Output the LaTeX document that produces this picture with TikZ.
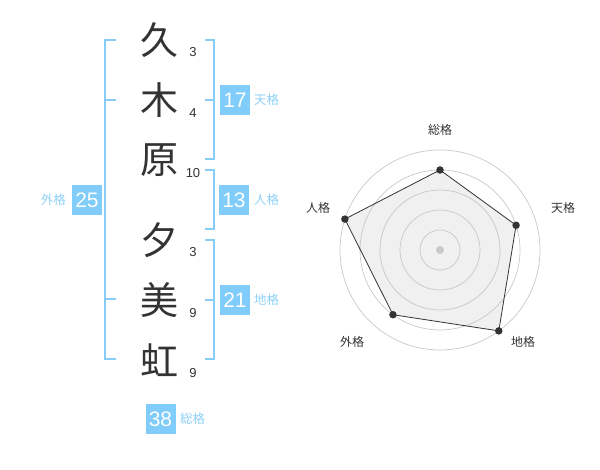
\documentclass[tikz,border=0pt]{standalone}
\usepackage{fontspec}
\usetikzlibrary{calc}
\setmainfont{Liberation Sans}
\newfontfamily\jp{Noto Sans CJK JP}
\definecolor{brk}{HTML}{88CDF8}
\definecolor{boxc}{HTML}{80CCFA}
\definecolor{lbl}{HTML}{8DD0F6}
\definecolor{ink}{HTML}{333333}
\definecolor{ring}{HTML}{C8C8C8}
\definecolor{polyfill}{HTML}{F0F0F0}
\tikzset{
  kanji/.style={font=\jp\fontsize{38}{38}\selectfont, text=ink, inner sep=0pt},
  strokes/.style={font=\fontsize{13}{13}\selectfont, text=ink, inner sep=0pt},
  numbox/.style={fill=boxc, minimum width=30pt, minimum height=30pt, inner sep=0pt, text=white, font=\fontsize{21}{21}\selectfont},
  kaku/.style={font=\jp\fontsize{12.5}{12.5}\selectfont, text=lbl, inner sep=0pt},
  bracket/.style={draw=brk, line width=2pt},
  ringline/.style={draw=ring, line width=0.7pt},
  axislbl/.style={font=\jp\fontsize{12}{12}\selectfont, text=ink, inner sep=0pt},
  dot/.style={circle, fill=ink, inner sep=0pt, minimum size=7.5pt},
}
\begin{document}
\begin{tikzpicture}[x=1pt,y=1pt]
\useasboundingbox (0,0) rectangle (600,470);
% characters
\node[kanji] (k1) at (159,430) {久};
\node[kanji] (k2) at (159,370) {木};
\node[kanji] (k3) at (159,310) {原};
\node[kanji] (k4) at (159,230) {夕};
\node[kanji] (k5) at (159,170) {美};
\node[kanji] (k6) at (159,110) {虹};
% stroke counts
\node[strokes] (s1) at (193,418) {3};
\node[strokes] (s2) at (193,357) {4};
\node[strokes] (s3) at (193,297) {10};
\node[strokes] (s4) at (193,218) {3};
\node[strokes] (s5) at (193,157) {9};
\node[strokes] (s6) at (193,97) {9};
% brackets
\draw[bracket] (116,430) -- (105,430) -- (105,111) -- (116,111);
\draw[bracket] (105,370) -- (116,370);
\draw[bracket] (105,171) -- (116,171);
\draw[bracket] (205,430) -- (214,430) -- (214,311) -- (205,311);
\draw[bracket] (205,370) -- (214,370);
\draw[bracket] (205,300) -- (214,300) -- (214,241) -- (205,241);
\draw[bracket] (205,230) -- (214,230) -- (214,111) -- (205,111);
\draw[bracket] (205,170) -- (214,170);
% boxes
\node[numbox] (ten) at (235,370) {17};
\node[kaku, anchor=west] (tenl) at (254,370) {天格};
\node[numbox] (jin) at (234,270) {13};
\node[kaku, anchor=west] (jinl) at (254,270) {人格};
\node[numbox] (chi) at (235,170) {21};
\node[kaku, anchor=west] (chil) at (254,170) {地格};
\node[numbox] (gai) at (87,270) {25};
\node[kaku, anchor=east] (gail) at (66,270) {外格};
\node[numbox] (sou) at (160.5,51) {38};
\node[kaku, anchor=west] (soul) at (180,51) {総格};
% radar
\coordinate (c) at (440,220);
\coordinate (p1) at ($(c)+(90:80)$);
\coordinate (p2) at ($(c)+(18:80)$);
\coordinate (p3) at ($(c)+(-54:100)$);
\coordinate (p4) at ($(c)+(-126:80)$);
\coordinate (p5) at ($(c)+(162:100)$);
\fill[polyfill] (p1) -- (p2) -- (p3) -- (p4) -- (p5) -- cycle;
\foreach \r in {20,40,60,80,100} \draw[ringline] (c) circle (\r);
\fill[ring] (c) circle (4);
\draw[draw=ink, line width=0.8pt] (p1) -- (p2) -- (p3) -- (p4) -- (p5) -- cycle;
\foreach \p in {p1,p2,p3,p4,p5} \node[dot] at (\p) {};
\node[axislbl] (a1) at (440,340) {総格};
\node[axislbl] (a2) at (563,262) {天格};
\node[axislbl] (a3) at (523,128) {地格};
\node[axislbl] (a4) at (352,128) {外格};
\node[axislbl] (a5) at (318,262) {人格};
\end{tikzpicture}
\end{document}
